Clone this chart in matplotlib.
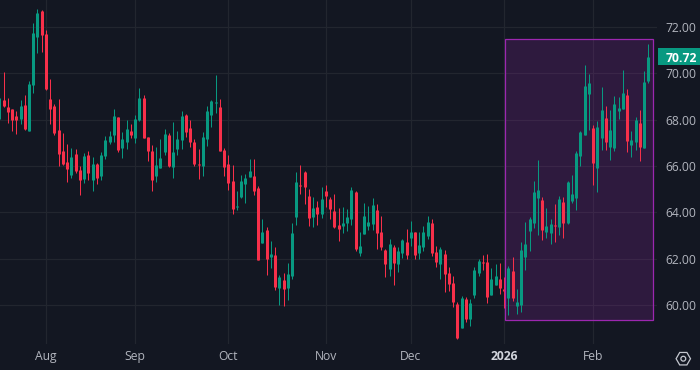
import matplotlib
matplotlib.use("Agg")
import matplotlib.pyplot as plt
import numpy as np
from matplotlib.patches import Rectangle, RegularPolygon, Circle
from matplotlib.transforms import blended_transform_factory

opens = [68.03,68.85,68.55,68.46,68.16,68.03,68.63,67.51,69.50,71.57,72.69,71.69,68.89,68.59,67.56,66.65,66.18,65.62,66.52,65.83,
65.44,66.48,65.40,66.09,65.57,66.44,67.04,67.34,68.12,66.78,67.04,67.51,67.21,67.99,68.94,67.25,66.65,65.57,65.92,66.61,
67.34,65.96,66.74,67.12,68.20,67.64,67.04,66.09,66.00,67.17,68.20,68.72,68.55,66.69,66.09,65.36,64.24,64.67,65.23,65.53,
65.57,65.05,62.68,63.24,62.08,62.17,60.74,61.09,60.74,61.26,63.80,65.18,65.74,64.71,63.80,64.24,63.93,64.93,64.58,64.06,
63.46,63.42,63.55,63.72,64.88,62.25,63.07,63.42,63.50,64.10,63.16,62.38,61.56,62.51,61.78,62.25,62.72,62.90,63.16,62.25,
62.51,62.98,63.55,62.29,61.78,62.21,61.39,60.96,60.05,59.02,60.27,59.41,60.44,61.39,61.86,61.86,60.44,60.87,61.13,60.70,
60.31,61.48,59.97,60.01,62.08,63.20,63.55,64.62,64.54,63.16,63.12,63.46,63.37,64.45,63.55,64.50,64.62,66.44,67.34,69.11,
67.64,65.92,67.21,68.07,66.82,66.78,68.37,68.46,69.07,66.91,67.04,67.86,66.78,69.67]
highs = [68.92,70.06,68.94,68.46,68.38,68.85,69.07,69.67,72.17,72.77,72.73,71.87,69.75,68.68,68.89,67.43,66.95,66.78,66.74,66.00,
66.57,66.65,66.39,66.13,66.61,67.30,67.51,68.46,68.12,67.47,67.99,67.82,68.20,69.37,69.07,67.25,66.91,66.82,67.17,67.60,
67.43,67.90,67.51,68.37,68.24,67.99,67.17,66.74,67.47,68.59,68.85,69.93,68.89,66.78,66.48,66.05,64.93,65.62,65.66,66.30,
66.30,65.14,63.72,63.37,62.77,62.51,61.30,61.39,61.82,63.55,65.74,66.05,65.79,65.01,64.67,64.49,65.10,65.18,64.67,64.80,
64.19,64.23,64.15,65.10,64.92,63.16,64.41,64.28,64.62,64.36,63.85,62.42,62.85,62.60,62.51,62.85,63.29,63.63,63.16,63.16,
63.42,63.85,63.72,62.55,62.51,62.38,61.65,61.26,60.14,60.40,60.36,60.27,61.65,61.99,62.16,62.21,61.61,61.78,61.82,61.22,
61.69,62.08,60.70,62.73,63.59,63.81,65.36,66.26,64.67,64.19,63.72,64.37,64.71,64.67,65.36,65.62,66.65,67.51,70.36,69.97,
67.77,67.94,69.41,68.59,68.42,69.02,68.98,70.14,69.32,67.51,68.11,68.42,70.10,71.26]
lows = [68.03,68.55,67.86,67.51,67.38,67.82,67.56,67.51,69.15,70.88,70.92,69.28,67.82,67.34,66.00,66.05,65.32,65.49,65.70,64.75,
65.27,65.40,64.93,65.23,65.40,66.31,66.95,67.04,66.61,66.35,66.74,67.21,67.00,67.94,67.21,66.22,64.93,65.32,65.92,66.48,
65.96,65.49,66.48,66.74,67.25,66.82,66.00,65.44,65.57,66.87,67.68,68.29,66.65,65.57,64.97,63.93,64.11,64.62,64.41,65.53,
64.75,61.95,62.68,61.30,61.61,60.66,60.01,59.97,60.23,61.13,63.46,64.80,64.37,63.42,63.37,63.46,63.76,64.24,63.72,63.33,
62.77,63.12,63.20,63.46,62.34,62.12,63.07,63.24,63.24,62.42,62.38,61.22,61.26,60.87,61.43,62.03,61.99,62.55,61.99,61.99,
62.34,62.85,62.12,61.65,61.13,60.57,60.61,59.93,58.55,59.02,59.28,59.11,60.31,61.26,61.52,60.10,60.44,60.87,60.49,59.88,
59.58,60.18,59.63,59.71,61.52,62.34,63.33,63.03,62.81,62.90,62.64,62.73,63.03,62.90,63.50,64.41,64.11,66.00,67.34,67.56,
65.18,64.88,66.69,66.69,66.26,66.65,68.03,68.46,66.61,66.39,66.69,66.22,66.78,69.58]
closes = [68.92,68.59,68.33,67.99,67.99,68.59,67.60,69.54,71.74,72.60,71.65,69.32,68.46,67.43,66.52,66.09,65.88,66.39,65.79,65.40,
66.44,65.70,66.09,65.49,66.48,67.13,67.30,68.16,66.69,67.17,67.60,67.34,68.03,68.94,67.21,66.65,65.40,66.05,66.35,67.38,
66.00,66.61,67.17,68.16,67.47,67.04,66.09,66.05,67.25,68.37,68.80,68.76,66.65,65.96,65.27,64.15,64.28,65.36,65.49,65.79,
64.93,61.95,63.16,61.99,62.21,60.79,61.22,60.70,61.35,63.12,65.31,65.14,65.10,63.76,64.19,63.93,64.58,64.71,64.15,63.37,
63.29,63.55,63.81,64.97,62.42,62.55,63.85,63.59,64.32,63.12,62.51,61.78,62.64,61.82,62.34,62.81,62.16,63.16,62.16,62.60,
63.16,63.59,62.25,61.86,62.42,61.35,60.92,60.14,58.59,60.31,59.41,60.10,61.52,61.91,61.82,60.36,61.13,61.26,60.75,60.61,
61.61,60.31,60.14,62.38,62.64,63.72,64.88,64.97,63.25,63.42,63.50,63.42,64.58,63.55,65.31,64.80,66.57,67.47,69.45,69.58,
66.13,67.68,68.42,67.04,67.56,68.68,68.51,69.15,67.08,67.12,67.98,66.82,69.63,70.72]

price_ticks = [60, 62, 64, 66, 68, 70, 72]
month_pos = [11, 32, 54, 77, 97, 119, 140]
month_labels = ["Aug", "Sep", "Oct", "Nov", "Dec", "2026", "Feb"]
box_x = [119.1, 154.2]
box_y = [59.35, 71.47]

BG = "#131722"; UP = "#089981"; DOWN = "#F7304A"; GRID = "#22262F"; TXT = "#B2B5BE"; BOX = "#9C27B0"

plt.rcParams["font.family"] = ["Open Sans", "DejaVu Sans"]
fig = plt.figure(figsize=(7, 3.7), dpi=100, facecolor=BG)
ax = fig.add_axes([0, 26/370, 657/700, 344/370], facecolor=BG)

o, h, l, c = map(np.array, (opens, highs, lows, closes))
x = np.arange(len(o))
col = np.where(c >= o, UP, DOWN)
wicks = ax.vlines(x, l, h, colors=col, linewidth=0.72, zorder=3)
wicks.set_snap(True)
body_lo = np.minimum(o, c)
body_hi = np.maximum(np.maximum(o, c), body_lo + 0.04)
bodies = ax.vlines(x, body_lo, body_hi, colors=col, linewidth=2.16, zorder=3, capstyle="butt")
bodies.set_snap(True)

ax.add_patch(Rectangle((box_x[0], box_y[0]), box_x[1]-box_x[0], box_y[1]-box_y[0],
                       facecolor=BOX, alpha=0.2, edgecolor="none", zorder=2))
ax.add_patch(Rectangle((box_x[0], box_y[0]), box_x[1]-box_x[0], box_y[1]-box_y[0],
                       facecolor="none", edgecolor=BOX, linewidth=0.9, zorder=4, snap=True))

ax.set_xlim(0.165, 155.05)
ax.set_ylim(58.33, 73.16)
ax.yaxis.tick_right()
ax.set_yticks(price_ticks, [f"{v:.2f}" for v in price_ticks])
ax.set_xticks(month_pos, month_labels)
ax.grid(True, color=GRID, linewidth=0.9, zorder=0)
ax.set_axisbelow(True)
ax.tick_params(length=0, colors=TXT, labelsize=8.7)
ax.tick_params(axis="y", pad=6.2)
ax.tick_params(axis="x", pad=4.6)
for lab in ax.get_xticklabels():
    if lab.get_text() == "2026":
        lab.set_fontweight("bold")
        lab.set_color("#D1D4DC")
for s in ax.spines.values():
    s.set_visible(False)

tr = blended_transform_factory(ax.transAxes, ax.transData)
half = 8.4 / 23.2
ax.add_patch(Rectangle((1.0015, closes[-1]-half), 43/657, 2*half, facecolor=UP, edgecolor="none",
                       transform=tr, clip_on=False, zorder=5))
ax.text(1 + 8.5/657, closes[-1], f"{closes[-1]:.2f}", transform=tr, color="white", fontsize=8.7,
        fontweight="bold", va="center_baseline", ha="left", zorder=6, clip_on=False)

cx, cy = 683.3/100, (370-358.7)/100
fig.add_artist(RegularPolygon((cx, cy), 6, radius=0.072, orientation=np.pi/6, facecolor="none",
                              edgecolor="#C4C7CF", linewidth=0.9, transform=fig.dpi_scale_trans))
fig.add_artist(Circle((cx, cy), 0.024, facecolor="none", edgecolor="#C4C7CF", linewidth=0.9,
                      transform=fig.dpi_scale_trans))

fig.savefig("out.png", dpi=100, facecolor=BG)
